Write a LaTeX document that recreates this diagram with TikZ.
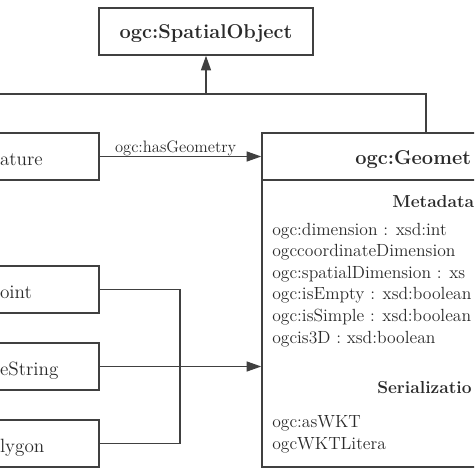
\documentclass[tikz,border=0pt]{standalone}
\usepackage{fontspec}
\usepackage{tikz}
\usetikzlibrary{arrows.meta,positioning}
\definecolor{linegray}{HTML}{404040}
\definecolor{textgray}{HTML}{2A2A2A}
\tikzstyle{line} = [draw=linegray, line width=1.1pt]
\tikzstyle{arrow} = [line, ->, >={Triangle[length=11pt,width=7.5pt]}]
\tikzstyle{topbox} = [rectangle, line, text=textgray, minimum width=160.5pt, minimum height=35.25pt,
    inner sep=0pt, text height=11.5pt, text depth=0.25pt, font=\fontsize{15}{18}\selectfont\bfseries]
\tikzstyle{leftbox} = [rectangle, line, text=textgray, minimum width=81pt, minimum height=35.25pt,
    text width=67.5pt, inner xsep=6.75pt, align=left, text height=13pt, text depth=0.2pt,
    font=\fontsize{14.4}{17}\selectfont]
\tikzstyle{classbox} = [rectangle, line, minimum width=246pt, minimum height=250.5pt]
\tikzstyle{title} = [anchor=base west, inner sep=0pt, text=textgray, font=\fontsize{15}{18}\selectfont\bfseries]
\tikzstyle{section} = [anchor=base west, inner sep=0pt, text=textgray, font=\fontsize{13}{16}\selectfont\bfseries]
\tikzstyle{attr} = [anchor=base west, inner sep=0pt, text=textgray, font=\fontsize{13.2}{16}\selectfont]

\begin{document}
\begin{tikzpicture}[x=0.75pt, y=-0.75pt]
		\useasboundingbox (0,0) rectangle (474,474);
		\clip (0,0) rectangle (474,474);

		% draw the class boxes first
		\node [topbox] (spatial) at (206,31.5) {ogc:SpatialObject};
		\node [leftbox] (feature) at (45,156.5) {ature};
		\node [leftbox] (point) at (45,289.5) {oint};
		\node [leftbox] (linestring) at (45,366.5) {eString};
		\node [leftbox] (polygon) at (45,443.5) {lygon};
		\node [classbox] (geometry) at (426,300) {};
		\draw [line] (geometry.west |- 0,180) -- (geometry.east |- 0,180);

		% texts of the geometry class
		\node [title] (geomtitle) at (355,165) {ogc:Geomet};
		\node [section] (metadata) at (392,207) {Metadata};
		\foreach \txt [count=\i] in {ogc:dimension : xsd:int, ogccoordinateDimension,
			ogc:spatialDimension : xs, ogc:isEmpty : xsd:boolean,
			ogc:isSimple : xsd:boolean, ogcis3D : xsd:boolean}
			\node [attr] (meta\i) at (272,213.4+21.6*\i) {\txt};
		\node [section] (serialization) at (377,393) {Serializatio};
		\node [attr] (wkt) at (272,427) {ogc:asWKT};
		\node [attr] (wktliteral) at (272,449) {ogcWKTLitera};

		% draw the edges connecting the boxes
		\coordinate (leftend) at (-5,94);
		\coordinate (hub) at (spatial.south |- leftend);
		\coordinate (join) at (180,366.5);
		\draw [line] (leftend) -| (geometry.north);
		\draw [arrow] (hub) -- (spatial.south);
		\draw [arrow] (feature.east) -- (feature -| geometry.west)
			node [pos=0.47, above, inner sep=0pt, text=textgray, font=\fontsize{12.4}{15}\selectfont] (hasgeom) {ogc:hasGeometry};
		\draw [line] (point.east) -| (join);
		\draw [line] (polygon.east) -| (join);
		\draw [arrow] (linestring.east) -- (linestring -| geometry.west);
	\end{tikzpicture}
\end{document}
